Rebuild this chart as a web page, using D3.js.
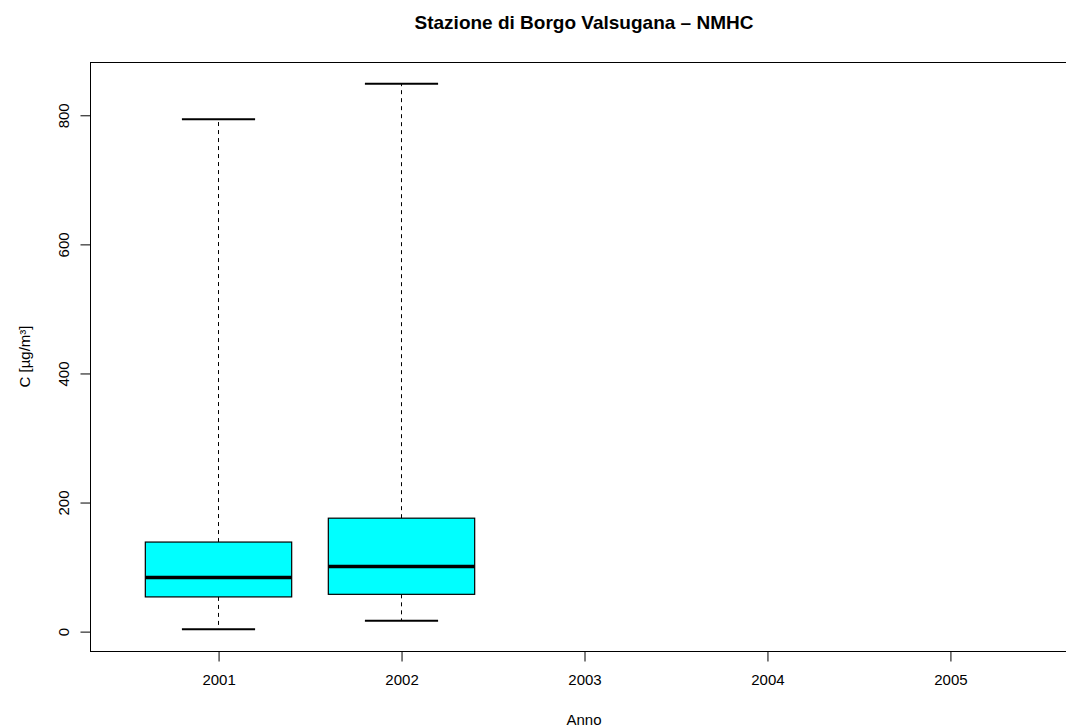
<!DOCTYPE html>
<html>
<head>
<meta charset="utf-8">
<script src="https://cdn.jsdelivr.net/npm/d3@7"></script>
<style>
  html, body { margin: 0; padding: 0; background: #fff; overflow: hidden; }
  svg { display: block; font-family: "Liberation Sans", Arial, Helvetica, sans-serif; }
</style>
</head>
<body>
<svg id="chart" width="1066" height="728"></svg>
<script>
// ---- data ----
const years = ["2001", "2002", "2003", "2004", "2005"];
const whiskerLow  = [3, 16, null, null, null];
const quartile1   = [53, 57, null, null, null];
const medians     = [83, 100, null, null, null];
const quartile3   = [138, 175, null, null, null];
const whiskerHigh = [793, 848, null, null, null];
const yTicks = [0, 200, 400, 600, 800];
const titleText = "Stazione di Borgo Valsugana \u2013 NMHC";
const xLabel = "Anno";
const yLabel = "C [\u00b5g/m\u00b3]";

// ---- layout ----
const svg = d3.select("#chart");
const pLeft = 90, pTop = 62, pBottom = 651, pRight = 1078;

const dataMin = d3.min(whiskerLow.filter(v => v != null));
const dataMax = d3.max(whiskerHigh.filter(v => v != null));
const ext = (dataMax - dataMin) * 0.04;
const x = d3.scaleLinear().domain([0.5 - 0.2, years.length + 0.5 + 0.2]).range([pLeft, pRight]);
const y = d3.scaleLinear().domain([dataMin - ext, dataMax + ext]).range([pBottom, pTop]);

const fs = 15;

// plot box
svg.append("rect")
  .attr("x", pLeft + 0.5).attr("y", pTop + 0.5)
  .attr("width", pRight - pLeft).attr("height", pBottom - pTop)
  .attr("fill", "none").attr("stroke", "#000").attr("stroke-width", 1);

// boxes
const stats = years.map((yr, i) => ({
  i: i + 1, yr,
  lo: whiskerLow[i], q1: quartile1[i], med: medians[i], q3: quartile3[i], hi: whiskerHigh[i]
})).filter(d => d.med != null);

const g = svg.append("g");
stats.forEach(d => {
  const cx = Math.round(x(d.i)) + 0.5;
  const bw = x(d.i + 0.4) - x(d.i);
  const cw = x(d.i + 0.2) - x(d.i);
  // whiskers dashed
  g.append("line").attr("x1", cx).attr("x2", cx)
    .attr("y1", y(d.q3)).attr("y2", y(d.hi))
    .attr("stroke", "#000").attr("stroke-dasharray", "4,4");
  g.append("line").attr("x1", cx).attr("x2", cx)
    .attr("y1", y(d.q1)).attr("y2", y(d.lo))
    .attr("stroke", "#000").attr("stroke-dasharray", "4,4");
  // caps
  [d.lo, d.hi].forEach(v => {
    g.append("line").attr("x1", cx - cw).attr("x2", cx + cw)
      .attr("y1", y(v)).attr("y2", y(v))
      .attr("stroke", "#000").attr("stroke-width", 2);
  });
  // box
  g.append("rect")
    .attr("x", cx - bw).attr("width", 2 * bw)
    .attr("y", y(d.q3)).attr("height", y(d.q1) - y(d.q3))
    .attr("fill", "#00ffff").attr("stroke", "#000").attr("stroke-width", 1.2);
  // median
  g.append("line").attr("x1", cx - bw).attr("x2", cx + bw)
    .attr("y1", y(d.med)).attr("y2", y(d.med))
    .attr("stroke", "#000").attr("stroke-width", 3.5);
});

// x axis
const xAxis = d3.axisBottom(x)
  .tickValues(years.map((_, i) => i + 1))
  .tickFormat((_, i) => years[i])
  .tickSize(10).tickSizeOuter(0).tickPadding(8);
const xg = svg.append("g").attr("transform", `translate(0.5,${pBottom + 0.5})`).call(xAxis);
xg.select(".domain").attr("d", `M${x(1)},0H${x(years.length)}`);
xg.selectAll("text").attr("font-size", fs).attr("font-family", "Liberation Sans, Arial, sans-serif").attr("fill", "#000").attr("dy", "1.05em");

// y axis
const yAxis = d3.axisLeft(y).tickValues(yTicks).tickSize(10).tickSizeOuter(0);
const yg = svg.append("g").attr("transform", `translate(${pLeft + 0.5},0.5)`).call(yAxis);
yg.select(".domain").attr("d", `M0,${y(yTicks[0])}V${y(yTicks[yTicks.length - 1])}`);
yg.selectAll(".tick text")
  .attr("font-size", fs).attr("font-family", "Liberation Sans, Arial, sans-serif").attr("fill", "#000")
  .attr("x", null).attr("dy", null)
  .attr("text-anchor", "middle")
  .attr("transform", "translate(-22,0) rotate(-90)");

// title
svg.append("text")
  .attr("x", (pLeft + pRight) / 2).attr("y", 29)
  .attr("text-anchor", "middle").attr("font-weight", "bold").attr("font-size", 19)
  .text(titleText);

// axis labels
svg.append("text")
  .attr("x", (pLeft + pRight) / 2).attr("y", 725)
  .attr("text-anchor", "middle").attr("font-size", fs)
  .text(xLabel);
svg.append("text")
  .attr("transform", `translate(30,${(pTop + pBottom) / 2}) rotate(-90)`)
  .attr("text-anchor", "middle").attr("font-size", fs)
  .text(yLabel);
</script>
</body>
</html>
